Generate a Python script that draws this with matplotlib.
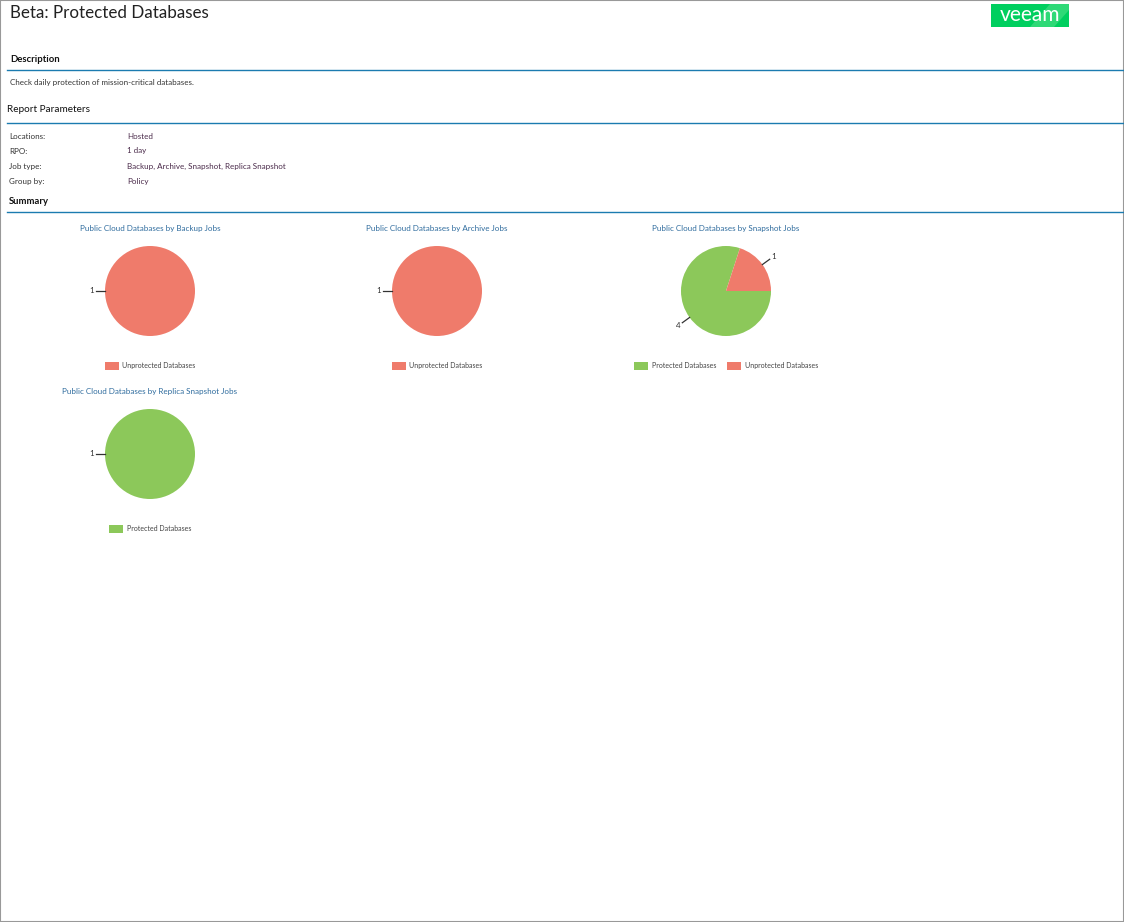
import matplotlib
matplotlib.use('Agg')
import numpy as np
from matplotlib import pyplot as plt
from matplotlib.patches import Rectangle, Polygon

W, H = 1124, 922

report_title = 'Beta: Protected Databases'
description = 'Check daily protection of mission-critical databases.'
param_names = ['Locations:', 'RPO:', 'Job type:', 'Group by:']
param_values = ['Hosted', '1 day', 'Backup, Archive, Snapshot, Replica Snapshot', 'Policy']

chart_titles = ['Public Cloud Databases by Backup Jobs',
                'Public Cloud Databases by Archive Jobs',
                'Public Cloud Databases by Snapshot Jobs',
                'Public Cloud Databases by Replica Snapshot Jobs']
chart_labels = [['Unprotected Databases'],
                ['Unprotected Databases'],
                ['Protected Databases', 'Unprotected Databases'],
                ['Protected Databases']]
chart_values = [[1], [1], [4, 1], [1]]

colors = {'Protected Databases': '#8cc85a', 'Unprotected Databases': '#ef7b6b'}
blue = '#1b7bb0'
title_blue = '#2f6c9e'
txt = '#333333'

plt.rcParams['font.family'] = ['Lato', 'DejaVu Sans']

fig = plt.figure(figsize=(W / 100, H / 100), dpi=100)


def fx(x):
    return x / W


def fy(y):
    return 1 - y / H


def ptext(x, y, s, size, **kw):
    # size given in pixels
    fig.text(fx(x), fy(y), s, fontsize=size * 0.72, va='center', **kw)


# frame
fig.add_artist(Rectangle((0, 0), 1, 1, transform=fig.transFigure, fill=False,
                         edgecolor='#999999', linewidth=1.5))

ptext(10, 13, report_title, 17, color='#222222')

# logo
fig.add_artist(Rectangle((fx(991), fy(27)), 78 / W, 23 / H, transform=fig.transFigure,
                         facecolor='#00cf5f', edgecolor='none'))
fig.add_artist(Polygon([(fx(1030), fy(27)), (fx(1050), fy(4)), (fx(1069), fy(4)),
                        (fx(1069), fy(10)), (fx(1054), fy(27))], closed=True,
                       transform=fig.transFigure, facecolor='#2fd977', edgecolor='none'))
ptext(1030, 15, 'veeam', 21, color='white', ha='center')

# section headers and rules
ptext(10, 59, 'Description', 9.5, color='#111111', fontweight='bold')
fig.add_artist(plt.Line2D([fx(7), 1], [fy(70), fy(70)], color=blue, linewidth=1))
ptext(10, 82, description, 8, color=txt)

ptext(7, 109, 'Report Parameters', 10, color='#111111')
fig.add_artist(plt.Line2D([fx(7), 1], [fy(123), fy(123)], color=blue, linewidth=1))
for i, (n, v) in enumerate(zip(param_names, param_values)):
    y = 136 + i * 15
    ptext(9, y, n, 8, color=txt)
    ptext(127, y, v, 8, color='#4a2a4a')

ptext(9, 201, 'Summary', 9.5, color='#111111', fontweight='bold')
fig.add_artist(plt.Line2D([fx(7), 1], [fy(212), fy(212)], color=blue, linewidth=1))

# pies
centers = [(150, 291), (437, 291), (726, 291), (150, 454)]
r = 45
for (cx, cy), t, labs, vals in zip(centers, chart_titles, chart_labels, chart_values):
    ax = fig.add_axes([fx(cx - r), fy(cy + r), 2 * r / W, 2 * r / H])
    wedges, _ = ax.pie(vals, colors=[colors[l] for l in labs], startangle=0,
                       counterclock=False, radius=1, wedgeprops=dict(linewidth=0))
    ax.set_xlim(-1, 1)
    ax.set_ylim(-1, 1)
    ax.set_aspect('equal')
    ax.axis('off')
    for w, v in zip(wedges, vals):
        ang = np.deg2rad((w.theta1 + w.theta2) / 2)
        c, s = np.cos(ang), np.sin(ang)
        ax.plot([c, 1.2 * c], [s, 1.2 * s], color='#333333', linewidth=0.9, clip_on=False)
        ax.text(1.3 * c, 1.3 * s, str(v), ha='center', va='center', fontsize=8 * 0.72,
                color='#333333', clip_on=False)
    ptext(cx, cy - 63, t, 8, color=title_blue, ha='center')
    ax.legend(wedges, labs, loc='center', bbox_to_anchor=(0.5, -0.333), ncol=len(labs),
              frameon=False, fontsize=7 * 0.72, handlelength=2.0, handleheight=1.4,
              columnspacing=1.6, handletextpad=0.5, labelcolor='#444444')

fig.savefig('out.png', dpi=100)
